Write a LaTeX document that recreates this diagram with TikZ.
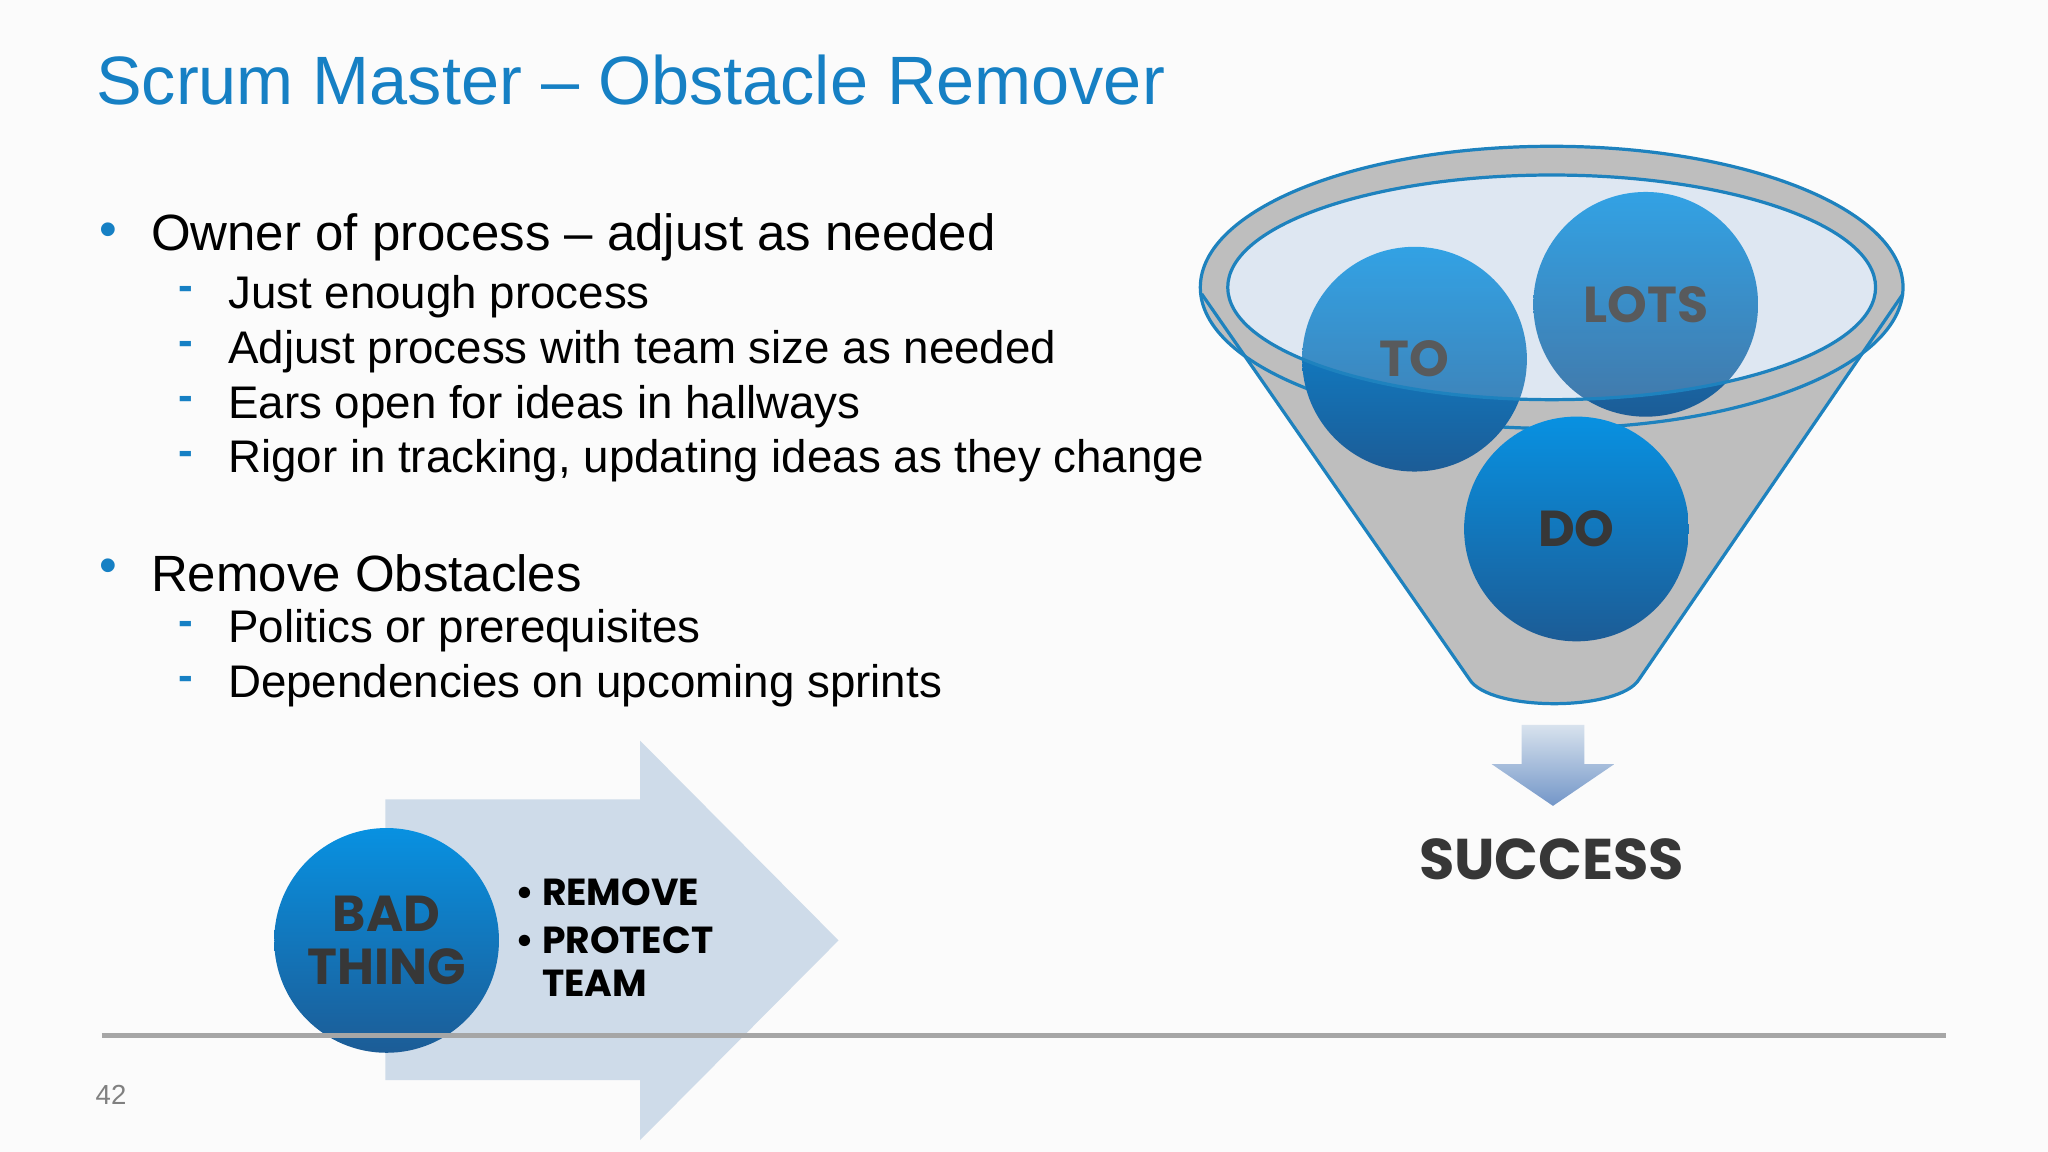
\documentclass[tikz,border=0pt]{standalone}
\usepackage{fontspec}
\setmainfont{Liberation Sans}
\newfontfamily\fun{Poppins}
\definecolor{ttl}{RGB}{22,128,196}
\definecolor{blt}{RGB}{22,128,196}
\definecolor{balltop}{RGB}{8,145,225}
\definecolor{ballbot}{RGB}{28,92,150}
\definecolor{arr}{RGB}{206,219,233}
\definecolor{fun}{RGB}{190,190,190}
\definecolor{funl}{RGB}{30,130,190}
\definecolor{inn}{RGB}{222,231,242}
\definecolor{txtd}{RGB}{55,55,55}
\newlength\punit \setlength\punit{0.2845pt}
\tikzset{
 ball/.style={circle,minimum size=172\punit,inner sep=0pt,top color=balltop,bottom color=ballbot,draw=none,
   font=\fun\bfseries\fontsize{11}{11.5}\selectfont,text=txtd,align=center},
 bul/.style={anchor=west,inner sep=0pt,font=\fontsize{11.1}{12}\selectfont},
 sub/.style={anchor=west,inner sep=0pt,font=\fontsize{9.95}{11}\selectfont},
 bmark/.style={anchor=center,text=blt},
}
\begin{document}
\begin{tikzpicture}[x={(0.01cm,0)},y={(0,-0.01cm)}]
\fill[white!97!gray] (0,0) rectangle (1568,882);
\useasboundingbox (0,0) rectangle (1568,882);
\node[anchor=west,inner sep=0pt,text=ttl,font=\fontsize{14.9}{16}\selectfont] (title) at (73,61) {Scrum Master -- Obstacle Remover};
% bullets
\node[bmark,font=\fontsize{11}{12}\selectfont] (m1) at (83,180) {•};
\node[bul] (b1) at (115,182) {Owner of process -- adjust as needed};
\foreach \y/\t [count=\i] in {225/Just enough process,267/Adjust process with team size as needed,309/Ears open for ideas in hallways,351/{Rigor in tracking, updating ideas as they change}}{
 \node[bmark,font=\bfseries\fontsize{9.6}{11}\selectfont] (d\i) at (142,\y) {-};
 \node[sub] (s\i) at (174,\y+2) {\t};}
\node[bmark,font=\fontsize{11}{12}\selectfont] (m2) at (83,437) {•};
\node[bul] (b2) at (115,439) {Remove Obstacles};
\foreach \y/\t [count=\i] in {481/Politics or prerequisites,523/Dependencies on upcoming sprints}{
 \node[bmark,font=\bfseries\fontsize{9.6}{11}\selectfont] (e\i) at (142,\y) {-};
 \node[sub] (t\i) at (174,\y+2) {\t};}
% funnel
\fill[fun] (1188,220) ellipse[x radius=269,y radius=108];
\fill[fun] (920,225) -- (1125,520) .. controls (1140,545) and (1240,545) .. (1255,520) -- (1457,225) -- cycle;
\draw[funl,line width=0.7pt] (920,225) -- (1125,520) .. controls (1140,545) and (1240,545) .. (1255,520) -- (1457,225);
\draw[funl,line width=0.7pt] (1188,220) ellipse[x radius=269,y radius=108];
\fill[inn] (1188,220) ellipse[x radius=248,y radius=86];
\node[ball] (lots) at (1260,233) {LOTS};
\node[ball] (to) at (1083,275) {TO};
\node[ball] (do) at (1207,405) {DO};
\begin{scope}
\clip (1188,220) ellipse[x radius=248,y radius=86];
\fill[inn,opacity=0.2] (1188,220) ellipse[x radius=248,y radius=86];
\end{scope}
\draw[funl,line width=0.7pt] (1188,220) ellipse[x radius=248,y radius=86];
% small arrow
\shade[top color=arr!80!white,bottom color={rgb,255:red,115;green,150;blue,200}] (1165,555) -- (1213,555) -- (1213,585) -- (1236,585) -- (1189,617) -- (1142,585) -- (1165,585) -- cycle;
\node[font=\fun\bfseries\fontsize{12.5}{14}\selectfont,text=txtd] (succ) at (1188,658) {SUCCESS};
% big arrow
\fill[arr] (295,612) -- (490,612) -- (490,567) -- (642,720) -- (490,873) -- (490,827) -- (295,827) -- cycle;
\node[ball] (bad) at (296,720) {BAD\\THING};
\node[anchor=north west,align=left,font=\fun\bfseries\fontsize{8.2}{9.5}\selectfont,text=black] (lst) at (382,660) {• REMOVE\\[1pt]• PROTECT\\\hphantom{• }TEAM};
\draw[gray!70,line width=1pt] (78,793) -- (1490,793);
\node[text=gray,font=\fontsize{6}{7}\selectfont] (pg) at (85,838) {42};
\end{tikzpicture}
\end{document}
